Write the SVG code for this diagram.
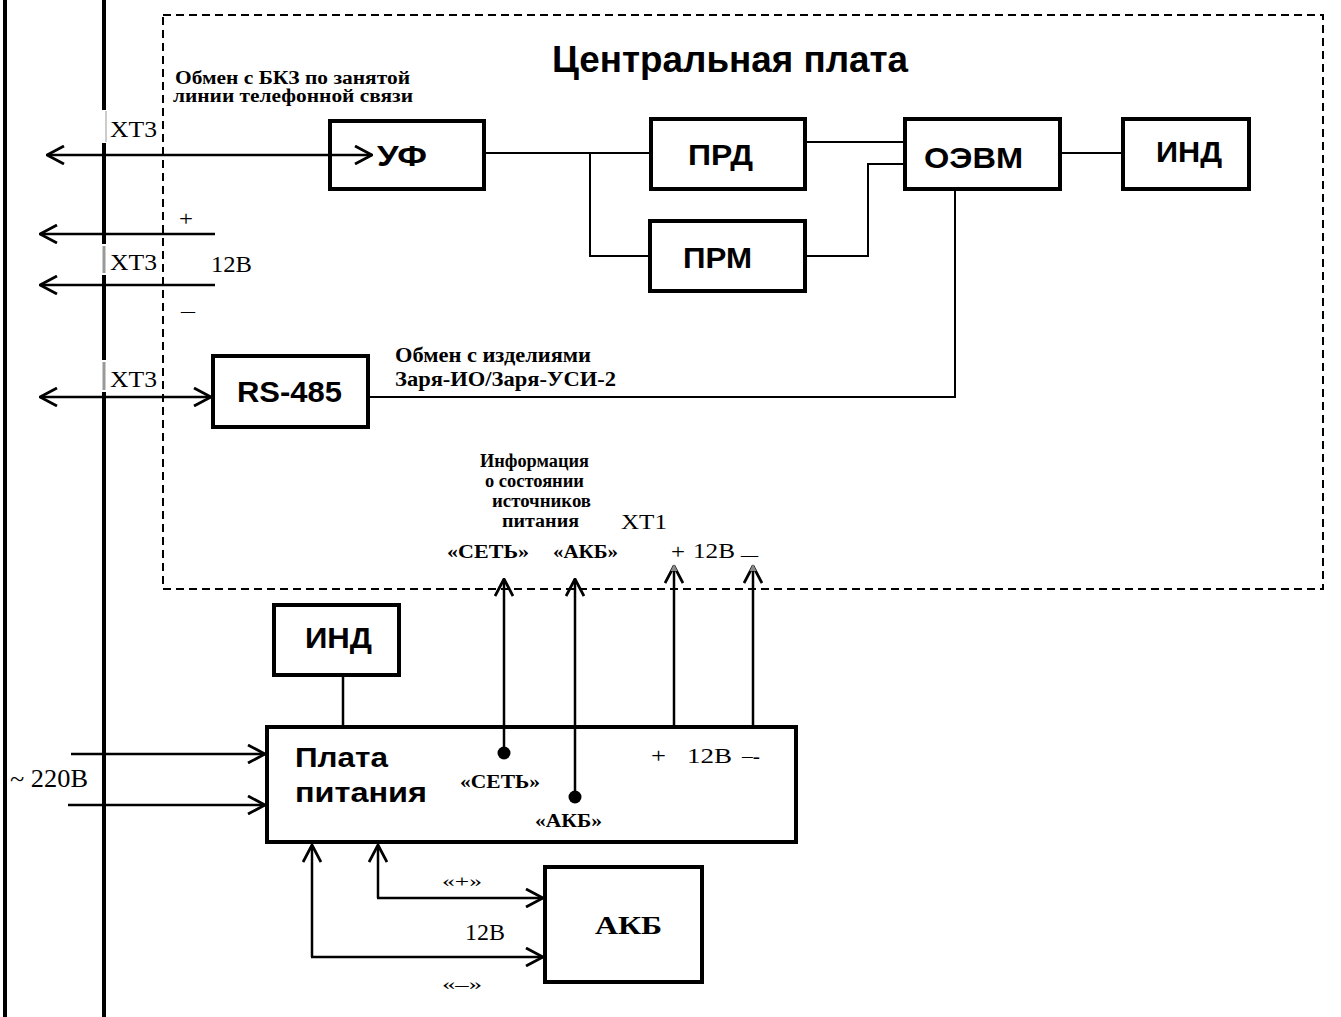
<svg xmlns="http://www.w3.org/2000/svg" width="1341" height="1017" viewBox="0 0 1341 1017">
<style>
.box{fill:#fff;stroke:#000;stroke-width:4}
.ln{fill:none;stroke:#000;stroke-width:2.5}
.thin{fill:none;stroke:#000;stroke-width:2}
.bus{fill:none;stroke:#000;stroke-width:4}
.ha{font-family:"Liberation Sans",Arial,sans-serif;font-weight:bold;fill:#000}
.ts{font-family:"Liberation Serif","Times New Roman",serif;fill:#000}
.tb{font-family:"Liberation Serif","Times New Roman",serif;font-weight:bold;fill:#000}
</style>
<defs>
<marker id="ah" viewBox="0 0 20 20" markerWidth="20" markerHeight="20" refX="19" refY="10" orient="auto-start-reverse" markerUnits="userSpaceOnUse">
<path d="M2,1 L19,10 L2,19" fill="none" stroke="#000" stroke-width="2.8"/>
</marker>
</defs>
<rect width="1341" height="1017" fill="#fff"/>

<g id="buses">
<line class="bus" x1="5" y1="0" x2="5" y2="1017"/>
<path class="bus" d="M104,0 V110 M104,143 V244 M104,275 V360 M104,392 V1017"/>
<line x1="106" y1="111" x2="106" y2="142" stroke="#bbb" stroke-width="1.5"/>
<line x1="104" y1="246" x2="104" y2="273" stroke="#999" stroke-width="3"/>
<line x1="104" y1="362" x2="104" y2="390" stroke="#999" stroke-width="3"/>
</g>

<g id="central-board">
<rect x="163" y="15" width="1160" height="574" fill="none" stroke="#000" stroke-width="2" stroke-dasharray="8,5"/>
<text class="ha" x="552" y="72" font-size="37" textLength="356" lengthAdjust="spacingAndGlyphs">Центральная плата</text>
</g>

<g id="uf">
<rect class="box" x="330" y="121" width="154" height="68"/>
<text class="ha" x="377" y="166" font-size="30" textLength="50" lengthAdjust="spacingAndGlyphs">УФ</text>
</g>
<g id="prd">
<rect class="box" x="651" y="119" width="154" height="70"/>
<text class="ha" x="688" y="165" font-size="30" textLength="65" lengthAdjust="spacingAndGlyphs">ПРД</text>
</g>
<g id="prm">
<rect class="box" x="650" y="221" width="155" height="70"/>
<text class="ha" x="683" y="268" font-size="30" textLength="69" lengthAdjust="spacingAndGlyphs">ПРМ</text>
</g>
<g id="oevm">
<rect class="box" x="905" y="119" width="155" height="70"/>
<text class="ha" x="924" y="168" font-size="30" textLength="99" lengthAdjust="spacingAndGlyphs">ОЭВМ</text>
</g>
<g id="ind-top">
<rect class="box" x="1123" y="119" width="126" height="70"/>
<text class="ha" x="1156" y="162" font-size="30" textLength="66" lengthAdjust="spacingAndGlyphs">ИНД</text>
</g>
<g id="rs485">
<rect class="box" x="213" y="356" width="155" height="71"/>
<text class="ha" x="237" y="402" font-size="30" textLength="105" lengthAdjust="spacingAndGlyphs">RS-485</text>
</g>
<g id="ind-bottom">
<rect class="box" x="274" y="605" width="125" height="70"/>
<text class="ha" x="305" y="648" font-size="30" textLength="67" lengthAdjust="spacingAndGlyphs">ИНД</text>
</g>
<g id="power-board">
<rect class="box" x="267" y="727" width="529" height="115"/>
<text class="ha" x="295" y="767" font-size="28" textLength="93" lengthAdjust="spacingAndGlyphs">Плата</text>
<text class="ha" x="295" y="802" font-size="28" textLength="132" lengthAdjust="spacingAndGlyphs">питания</text>
<text class="tb" x="460" y="788" font-size="19" textLength="80" lengthAdjust="spacingAndGlyphs">«СЕТЬ»</text>
<text class="tb" x="535" y="827" font-size="19" textLength="67" lengthAdjust="spacingAndGlyphs">«АКБ»</text>
<text class="ts" x="651" y="763" font-size="22" textLength="15" lengthAdjust="spacingAndGlyphs">+</text>
<text class="ts" x="687" y="763" font-size="21" textLength="45" lengthAdjust="spacingAndGlyphs">12В</text>
<text class="ts" x="742" y="763" font-size="21" textLength="18" lengthAdjust="spacingAndGlyphs">–-</text>
</g>
<g id="akb">
<rect class="box" x="545" y="867" width="157" height="115"/>
<text class="tb" x="595" y="934" font-size="25" textLength="67" lengthAdjust="spacingAndGlyphs">АКБ</text>
</g>

<g id="connectors">
<line class="ln" x1="47" y1="155" x2="372" y2="155" marker-start="url(#ah)" marker-end="url(#ah)"/>
<line class="ln" x1="40" y1="234" x2="215" y2="234" marker-start="url(#ah)"/>
<line class="ln" x1="40" y1="285" x2="215" y2="285" marker-start="url(#ah)"/>
<line class="ln" x1="40" y1="397" x2="211" y2="397" marker-start="url(#ah)" marker-end="url(#ah)"/>
<path class="thin" d="M486,153 H649 M590,153 V256 H648"/>
<path class="thin" d="M807,142 H903 M807,256 H868 V164 H903"/>
<path class="thin" d="M1062,153 H1121"/>
<path class="thin" d="M955,191 V397 H370"/>
<path class="ln" d="M343,677 V725"/>
<line class="ln" x1="504" y1="753" x2="504" y2="579" marker-end="url(#ah)"/>
<line class="ln" x1="575" y1="797" x2="575" y2="579" marker-end="url(#ah)"/>
<line class="ln" x1="674" y1="725" x2="674" y2="566" marker-end="url(#ah)"/>
<line class="ln" x1="753" y1="725" x2="753" y2="566" marker-end="url(#ah)"/>
<path d="M670.5,571 L674,564 L677.5,571 Z" fill="#888"/>
<path d="M749.5,571 L753,564 L756.5,571 Z" fill="#888"/>
<circle cx="504" cy="753" r="6.5" fill="#000"/>
<circle cx="575" cy="797" r="6.5" fill="#000"/>
<line class="ln" x1="71" y1="754" x2="265" y2="754" marker-end="url(#ah)"/>
<line class="ln" x1="68" y1="805" x2="265" y2="805" marker-end="url(#ah)"/>
<path class="ln" d="M378,898 V845" marker-end="url(#ah)"/>
<path class="ln" d="M312,957 V845" marker-end="url(#ah)"/>
<line class="ln" x1="377" y1="898" x2="543" y2="898" marker-end="url(#ah)"/>
<line class="ln" x1="311" y1="957" x2="543" y2="957" marker-end="url(#ah)"/>
</g>

<g id="labels">
<text class="tb" x="175" y="84" font-size="18" textLength="235" lengthAdjust="spacingAndGlyphs">Обмен с БКЗ по занятой</text>
<text class="tb" x="173" y="102" font-size="18" textLength="240" lengthAdjust="spacingAndGlyphs">линии телефонной связи</text>
<text class="ts" x="110" y="137" font-size="24" textLength="47" lengthAdjust="spacingAndGlyphs">ХТ3</text>
<text class="ts" x="110" y="270" font-size="24" textLength="47" lengthAdjust="spacingAndGlyphs">ХТ3</text>
<text class="ts" x="110" y="387" font-size="24" textLength="47" lengthAdjust="spacingAndGlyphs">ХТ3</text>
<text class="ts" x="179" y="226" font-size="22" textLength="14" lengthAdjust="spacingAndGlyphs">+</text>
<text class="ts" x="211" y="272" font-size="23" textLength="41" lengthAdjust="spacingAndGlyphs">12В</text>
<text class="ts" x="181" y="318" font-size="22" textLength="14" lengthAdjust="spacingAndGlyphs">–</text>
<text class="tb" x="395" y="362" font-size="22" textLength="196" lengthAdjust="spacingAndGlyphs">Обмен с изделиями</text>
<text class="tb" x="395" y="386" font-size="22" textLength="221" lengthAdjust="spacingAndGlyphs">Заря-ИО/Заря-УСИ-2</text>
<text class="tb" x="480" y="467" font-size="18" textLength="109" lengthAdjust="spacingAndGlyphs">Информация</text>
<text class="tb" x="485" y="487" font-size="18" textLength="99" lengthAdjust="spacingAndGlyphs">о состоянии</text>
<text class="tb" x="492" y="507" font-size="18" textLength="99" lengthAdjust="spacingAndGlyphs">источников</text>
<text class="tb" x="502" y="527" font-size="18" textLength="77" lengthAdjust="spacingAndGlyphs">питания</text>
<text class="ts" x="621" y="529" font-size="21" textLength="46" lengthAdjust="spacingAndGlyphs">ХТ1</text>
<text class="tb" x="447" y="558" font-size="18" textLength="82" lengthAdjust="spacingAndGlyphs">«СЕТЬ»</text>
<text class="tb" x="553" y="558" font-size="18" textLength="65" lengthAdjust="spacingAndGlyphs">«АКБ»</text>
<text class="ts" x="671" y="559" font-size="22" textLength="14" lengthAdjust="spacingAndGlyphs">+</text>
<text class="ts" x="693" y="558" font-size="22" textLength="42" lengthAdjust="spacingAndGlyphs">12В</text>
<text class="ts" x="741" y="562" font-size="22" textLength="17" lengthAdjust="spacingAndGlyphs">–</text>
<text class="ts" x="10" y="787" font-size="26" textLength="78" lengthAdjust="spacingAndGlyphs">~ 220В</text>
<text class="ts" x="442" y="887" font-size="17" textLength="40" lengthAdjust="spacingAndGlyphs">«+»</text>
<text class="ts" x="465" y="940" font-size="23" textLength="40" lengthAdjust="spacingAndGlyphs">12В</text>
<text class="ts" x="442" y="990" font-size="17" textLength="40" lengthAdjust="spacingAndGlyphs">«–»</text>
</g>
</svg>
